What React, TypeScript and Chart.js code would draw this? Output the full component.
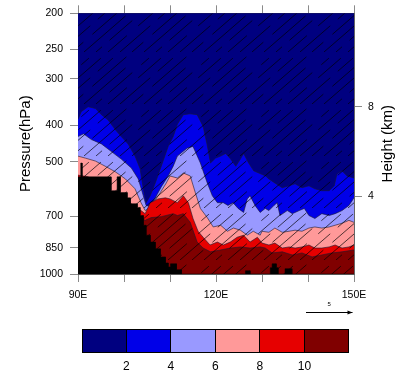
import React, { useEffect, useRef } from 'react';
import { Chart, registerables } from 'chart.js';

Chart.register(...registerables);

// ---------- axes ----------
const lonTicks = [90, 100, 110, 120, 130, 140, 150];
const lonLabelValues = [90, 120, 150];
const lonLabelTexts = ['90E', '120E', '150E'];
const pressureTicks = [200, 250, 300, 400, 500, 700, 850, 1000];
const heightTicksKm = [8, 4];
const heightTickPressure = [356, 619];

// ---------- contour boundaries (lon, pressure hPa) ----------
// boundary between level <2 and 2-4
const b2Lon = [90, 90.7, 92.2, 93.8, 95.1, 96.6, 98.1, 99.4, 100.9, 102.4, 103.5, 104.2, 104.8, 105.7, 106.8, 108.1, 109.6, 110.7, 111.6, 112.9, 114.4, 115.9, 117.2, 118.1, 118.8, 119.9, 121.0, 122.1, 123.2, 124.3, 125.3, 126.0, 127.1, 128.2, 129.3, 130.8, 131.5, 132.8, 134.4, 135.9, 137.2, 138.7, 140.2, 141.5, 143.0, 144.6, 145.7, 146.3, 147.4, 148.5, 150];
const b2P = [385, 367, 356, 360, 374, 387, 410, 428, 448, 483, 522, 591, 644, 617, 570, 514, 455, 428, 397, 374, 372, 374, 402, 452, 504, 489, 483, 475, 492, 514, 492, 475, 504, 529, 536, 546, 556, 570, 587, 580, 573, 587, 580, 591, 598, 598, 580, 539, 529, 546, 553];

// boundary 4
const b4Lon = [90, 91.2, 92.9, 95.1, 97.2, 99.4, 101.6, 103.1, 104.2, 104.8, 105.7, 106.8, 108.1, 109.6, 110.7, 111.6, 113.7, 115.0, 116.6, 118.1, 119.2, 120.3, 121.6, 122.6, 123.7, 124.8, 126.0, 126.8, 127.4, 128.5, 129.6, 130.7, 131.5, 132.6, 133.3, 133.9, 135.5, 136.6, 138.1, 139.2, 140.2, 141.5, 143.0, 144.6, 145.9, 147.4, 148.9, 150];
const b4P = [428, 421, 436, 448, 469, 492, 520, 556, 617, 655, 659, 625, 584, 546, 514, 483, 460, 455, 504, 570, 617, 644, 644, 655, 644, 667, 684, 629, 617, 655, 684, 667, 676, 655, 644, 697, 676, 689, 676, 667, 697, 710, 689, 697, 689, 676, 655, 625];

// boundary 6
const b6Lon = [90, 91.6, 93.8, 95.9, 98.1, 100.3, 102.4, 103.7, 104.6, 105.3, 106.4, 107.9, 109.2, 110.0, 111.6, 112.9, 114.4, 115.5, 116.6, 118.1, 119.4, 121.0, 122.5, 123.8, 125.3, 126.8, 128.1, 129.6, 130.0, 131.5, 132.8, 134.4, 135.9, 137.2, 138.7, 140.2, 141.5, 143.0, 144.6, 145.9, 147.4, 148.9, 150];
const b6P = [483, 489, 498, 514, 532, 556, 591, 644, 676, 667, 644, 605, 570, 546, 553, 536, 546, 605, 667, 706, 748, 740, 768, 753, 763, 787, 768, 787, 768, 773, 753, 773, 768, 763, 768, 753, 748, 753, 748, 740, 731, 718, 727];

// boundary 8
const b8Lon = [90, 92.2, 94.8, 99.4, 100.9, 102.4, 103.7, 104.6, 105.7, 107.4, 109.0, 110.0, 111.6, 112.9, 114.0, 115.0, 116.1, 117.2, 118.7, 120.3, 121.6, 123.1, 124.6, 126.0, 127.4, 129.0, 130.0, 131.5, 132.8, 134.4, 135.9, 137.2, 138.7, 140.2, 141.5, 143.0, 144.6, 145.9, 147.4, 148.9, 150];
const b8P = [543, 549, 580, 625, 636, 663, 676, 689, 644, 629, 625, 629, 644, 617, 644, 710, 768, 797, 836, 821, 836, 821, 797, 787, 821, 797, 826, 836, 826, 852, 846, 852, 846, 836, 852, 852, 846, 836, 852, 846, 836];

// boundary 10
const b10Lon = [90, 101.3, 103.5, 104.6, 105.9, 108.1, 110.7, 111.6, 112.9, 114.4, 115.9, 117.2, 118.8, 121.0, 123.1, 125.3, 127.4, 129.6, 130.7, 132.2, 134.4, 136.6, 138.7, 140.9, 143.0, 145.2, 147.4, 150];
const b10P = [570, 655, 706, 718, 706, 702, 689, 697, 689, 727, 821, 852, 872, 862, 852, 846, 852, 846, 852, 878, 872, 889, 878, 900, 889, 878, 872, 862];

// terrain (black)
const terrainLon = [90, 90.6, 90.6, 90.9, 90.9, 97.2, 97.2, 98.5, 98.5, 99.2, 99.2, 100.7, 100.7, 101.4, 101.4, 102.9, 102.9, 103.5, 103.5, 104.2, 104.2, 104.8, 104.8, 105.7, 105.7, 106.8, 106.8, 107.9, 107.9, 109.0, 109.0, 109.6, 109.6, 110.1, 110.1, 111.4, 111.4, 112.5, 112.5, 126.4, 126.4, 127.4, 127.4, 131.8, 131.8, 132.2, 132.2, 133.1, 133.1, 133.5, 133.5, 135.0, 135.0, 136.5, 136.5, 150];
const terrainP = [549, 549, 504, 504, 549, 549, 598, 598, 549, 549, 605, 605, 625, 625, 648, 648, 663, 663, 697, 697, 740, 740, 787, 787, 821, 821, 856, 856, 900, 900, 934, 934, 957, 957, 939, 939, 974, 974, 1000, 1000, 980, 980, 1000, 1000, 962, 962, 939, 939, 962, 962, 1000, 1000, 968, 968, 1000, 1000];

// ---------- colour levels ----------
const levelColors = ['#000080', '#0000e8', '#9999ff', '#ff9999', '#e60000', '#800000'];
const levelLabels = ['2', '4', '6', '8', '10'];
const vectorRefLabel = '5';

const FONT = '"Liberation Sans", Arial, Helvetica, sans-serif';

function makeHatch(): CanvasPattern | string {
  const W = 60, H = 52;
  const c = document.createElement('canvas');
  c.width = W; c.height = H;
  const g = c.getContext('2d');
  if (!g) return 'rgba(0,0,0,0)';
  const L = Math.hypot(W, H);
  const offsets = [0, 12, 24, 36, 48];
  const dashes = [
    [40, 10, 20, 9.4],
    [15, 12, 45, 7.4],
    [55, 24.4],
    [8, 10, 30, 12, 10, 9.4],
    [25, 15, 30, 9.4],
  ];
  g.strokeStyle = 'rgba(0,0,0,0.85)';
  g.lineWidth = 0.8;
  offsets.forEach((o, i) => {
    const d = dashes[i];
    const s = d.reduce((a, b) => a + b, 0);
    g.setLineDash(d.map((v) => (v * L) / s));
    for (const shift of [0, -W]) {
      g.beginPath();
      g.moveTo(o + shift, H);
      g.lineTo(o + shift + W, 0);
      g.stroke();
    }
  });
  const p = g.createPattern(c, 'repeat');
  return p || 'rgba(0,0,0,0)';
}

export default function App() {
  const ref = useRef<HTMLCanvasElement>(null);

  useEffect(() => {
    const canvas = ref.current;
    if (!canvas) return;
    const hatch = makeHatch();
    const mk = (lon: number[], p: number[]) => lon.map((x, i) => ({ x, y: p[i] }));
    const ds = (label: string, lon: number[], p: number[], color: string) => ({
      label,
      data: mk(lon, p),
      borderColor: 'rgba(25,25,45,0.85)',
      borderWidth: 0.7,
      backgroundColor: color,
      fill: 'start',
      pointRadius: 0,
      tension: 0,
    });

    const bgPlugin = {
      id: 'bgNavy',
      beforeDatasetsDraw(chart: any) {
        const { ctx, chartArea: a } = chart;
        ctx.save();
        ctx.fillStyle = levelColors[0];
        ctx.fillRect(a.left, a.top, a.right - a.left, a.bottom - a.top);
        ctx.restore();
      },
    };
    const hatchPlugin = {
      id: 'hatch',
      afterDatasetsDraw(chart: any) {
        const { ctx, chartArea: a } = chart;
        ctx.save();
        ctx.beginPath();
        ctx.rect(a.left, a.top, a.right - a.left, a.bottom - a.top);
        ctx.clip();
        ctx.fillStyle = hatch;
        ctx.fillRect(a.left, a.top, a.right - a.left, a.bottom - a.top);
        ctx.restore();
      },
    };
    const annotPlugin = {
      id: 'annot',
      afterDraw(chart: any) {
        const { ctx, chartArea: a } = chart;
        ctx.save();
        // right axis title, reading upward
        ctx.fillStyle = '#000';
        ctx.font = `15px ${FONT}`;
        ctx.textAlign = 'center';
        ctx.textBaseline = 'middle';
        ctx.translate(388, (a.top + a.bottom) / 2);
        ctx.rotate(-Math.PI / 2);
        ctx.fillText('Height (km)', 0, 0);
        ctx.restore();
        // reference vector
        ctx.save();
        const y = a.bottom + 38.5;
        const x1 = a.right - 48;
        const x2 = a.right - 1.5;
        ctx.strokeStyle = '#000';
        ctx.lineWidth = 1;
        ctx.beginPath();
        ctx.moveTo(x1, y);
        ctx.lineTo(x2, y);
        ctx.stroke();
        ctx.fillStyle = '#000';
        ctx.beginPath();
        ctx.moveTo(x2, y);
        ctx.lineTo(x2 - 5, y - 2);
        ctx.lineTo(x2 - 5, y + 2);
        ctx.closePath();
        ctx.fill();
        ctx.font = `6px ${FONT}`;
        ctx.textAlign = 'center';
        ctx.textBaseline = 'middle';
        ctx.fillText(vectorRefLabel, (x1 + x2) / 2, y - 8);
        ctx.restore();
      },
    };

    const tickFont = { family: FONT, size: 10.5 };
    const gridOpts = { drawOnChartArea: false, drawTicks: true, tickLength: 8, tickColor: '#8a8a8a', lineWidth: 1 };

    const chart = new Chart(canvas, {
      type: 'line',
      data: {
        datasets: [
          {
            label: 'terrain',
            data: mk(terrainLon, terrainP),
            borderColor: '#000',
            borderWidth: 0.5,
            backgroundColor: '#000',
            fill: 'start',
            pointRadius: 0,
            tension: 0,
          },
          ds('10', b10Lon, b10P, levelColors[5]),
          ds('8', b8Lon, b8P, levelColors[4]),
          ds('6', b6Lon, b6P, levelColors[3]),
          ds('4', b4Lon, b4P, levelColors[2]),
          ds('2', b2Lon, b2P, levelColors[1]),
        ] as any,
      },
      options: {
        animation: false,
        responsive: false,
        maintainAspectRatio: false,
        layout: { padding: 0 },
        events: [],
        plugins: {
          legend: { display: false },
          tooltip: { enabled: false },
          filler: { drawTime: 'beforeDatasetDraw' },
        } as any,
        scales: {
          x: {
            type: 'linear',
            position: 'bottom',
            min: 90,
            max: 150,
            z: 1,
            afterBuildTicks: (s: any) => {
              s.ticks = lonTicks.map((v) => ({ value: v }));
            },
            afterFit: (s: any) => {
              s.height = 100;
            },
            ticks: {
              autoSkip: false,
              maxRotation: 0,
              padding: 7,
              color: '#000',
              font: tickFont,
              callback: (v: any) => {
                const i = lonLabelValues.indexOf(Number(v));
                return i >= 0 ? lonLabelTexts[i] : '';
              },
            },
            grid: gridOpts,
            border: { display: true, color: '#555', width: 1 },
          },
          xTop: {
            type: 'linear',
            axis: 'x',
            position: 'top',
            min: 90,
            max: 150,
            z: 1,
            afterBuildTicks: (s: any) => {
              s.ticks = lonTicks.map((v) => ({ value: v }));
            },
            afterFit: (s: any) => {
              s.height = 10;
            },
            ticks: { display: false },
            grid: gridOpts,
            border: { display: true, color: '#333', width: 1 },
          },
          y: {
            type: 'logarithmic',
            position: 'left',
            min: 200,
            max: 1000,
            reverse: true,
            z: 1,
            afterBuildTicks: (s: any) => {
              s.ticks = pressureTicks.map((v) => ({ value: v }));
            },
            afterFit: (s: any) => {
              s.width = 78;
            },
            ticks: {
              padding: 7,
              color: '#000',
              font: tickFont,
              callback: (v: any) => String(v),
            },
            grid: gridOpts,
            border: { display: true, color: '#555', width: 1 },
            title: {
              display: true,
              text: 'Pressure(hPa)',
              color: '#000',
              font: { family: FONT, size: 15 },
              padding: { top: 16.5, bottom: 0 },
            },
          },
          y2: {
            type: 'logarithmic',
            position: 'right',
            min: 200,
            max: 1000,
            reverse: true,
            z: 1,
            afterBuildTicks: (s: any) => {
              s.ticks = heightTickPressure.map((v) => ({ value: v }));
            },
            afterFit: (s: any) => {
              s.width = 46;
            },
            ticks: {
              padding: 6,
              color: '#000',
              font: tickFont,
              callback: (_v: any, i: number) => String(heightTicksKm[i]),
            },
            grid: gridOpts,
            border: { display: true, color: '#666', width: 1 },
          },
        } as any,
      },
      plugins: [bgPlugin, hatchPlugin, annotPlugin],
    });
    return () => chart.destroy();
  }, []);

  const barLeft = 81.7;
  const barWidth = 267.3;
  const boxW = barWidth / levelColors.length;

  return (
    <div style={{ position: 'absolute', left: 0, top: 0, width: 400, height: 374, background: '#fff', overflow: 'hidden' }}>
      <canvas ref={ref} width={400} height={374} style={{ position: 'absolute', left: 0, top: 0, width: 400, height: 374 }} />
      <div
        style={{
          position: 'absolute',
          left: barLeft,
          top: 329,
          width: barWidth,
          height: 24,
          display: 'flex',
          boxSizing: 'border-box',
          border: '1px solid #000',
        }}
      >
        {levelColors.map((c, i) => (
          <div
            key={i}
            style={{
              flex: 1,
              background: c,
              borderLeft: i > 0 ? '1px solid #000' : 'none',
            }}
          />
        ))}
      </div>
      {levelLabels.map((t, i) => (
        <div
          key={t}
          style={{
            position: 'absolute',
            left: barLeft + boxW * (i + 1) - 20,
            width: 40,
            top: 358,
            textAlign: 'center',
            fontFamily: FONT,
            fontSize: 12,
            lineHeight: '16px',
            color: '#000',
          }}
        >
          {t}
        </div>
      ))}
    </div>
  );
}
